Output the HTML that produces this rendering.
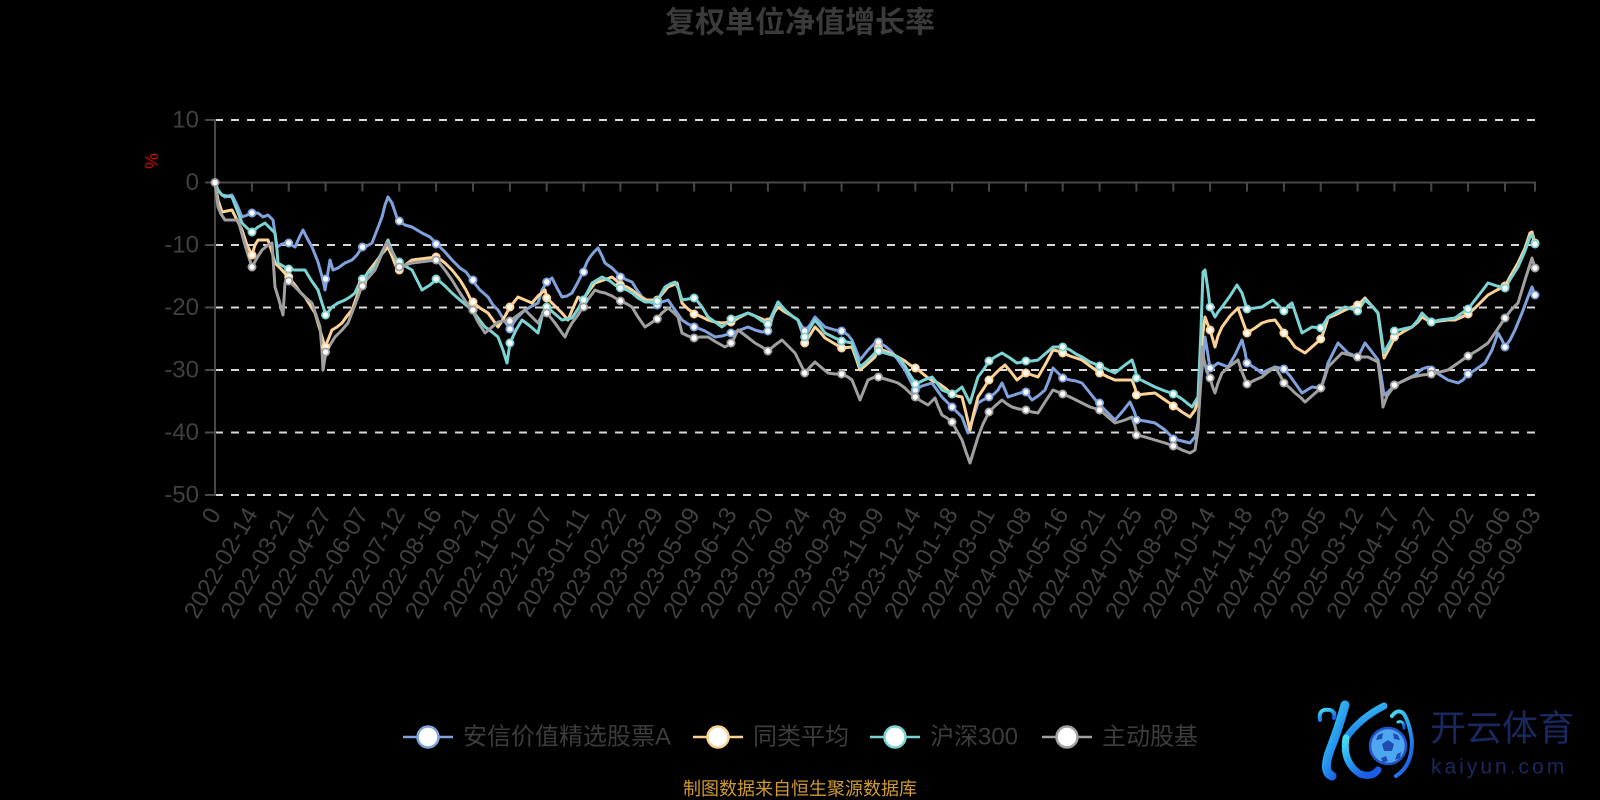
<!DOCTYPE html>
<html><head><meta charset="utf-8">
<style>
html,body{margin:0;padding:0;background:#000;}
svg{display:block;}
text{font-family:"Liberation Sans","Noto Sans CJK SC",sans-serif;}
</style></head>
<body>
<svg width="1600" height="800" viewBox="0 0 1600 800" xmlns="http://www.w3.org/2000/svg">
<rect width="1600" height="800" fill="#000"/>
<!-- title -->
<text x="800" y="23" text-anchor="middle" dominant-baseline="central" font-size="30" font-weight="bold" fill="#3a3a3a">复权单位净值增长率</text>

<!-- grid -->
<g stroke="#d8d8d8" stroke-width="2" stroke-dasharray="8 8" fill="none">
<line x1="215" y1="120" x2="1535" y2="120"/>
<line x1="215" y1="245" x2="1535" y2="245"/>
<line x1="215" y1="307.5" x2="1535" y2="307.5"/>
<line x1="215" y1="370" x2="1535" y2="370"/>
<line x1="215" y1="432.5" x2="1535" y2="432.5"/>
<line x1="215" y1="495" x2="1535" y2="495"/>
</g>
<!-- axes -->
<g stroke="#484848" stroke-width="2" fill="none">
<line x1="215" y1="119" x2="215" y2="496"/>
<line x1="214" y1="182.5" x2="1536" y2="182.5"/>
<line x1="205" y1="120" x2="215" y2="120"/>
<line x1="205" y1="182.5" x2="215" y2="182.5"/>
<line x1="205" y1="245" x2="215" y2="245"/>
<line x1="205" y1="307.5" x2="215" y2="307.5"/>
<line x1="205" y1="370" x2="215" y2="370"/>
<line x1="205" y1="432.5" x2="215" y2="432.5"/>
<line x1="205" y1="495" x2="215" y2="495"/>
<path d="M251.9 182.5v9M288.7 182.5v9M325.6 182.5v9M362.4 182.5v9M399.3 182.5v9M436.1 182.5v9M473 182.5v9M509.9 182.5v9M546.7 182.5v9M583.6 182.5v9M620.4 182.5v9M657.3 182.5v9M694.1 182.5v9M731 182.5v9M767.9 182.5v9M804.7 182.5v9M841.6 182.5v9M878.4 182.5v9M915.3 182.5v9M952.1 182.5v9M989 182.5v9M1025.9 182.5v9M1062.7 182.5v9M1099.6 182.5v9M1136.4 182.5v9M1173.3 182.5v9M1210.1 182.5v9M1247 182.5v9M1283.9 182.5v9M1320.7 182.5v9M1357.6 182.5v9M1394.4 182.5v9M1431.3 182.5v9M1468.1 182.5v9M1505 182.5v9M1535 182.5v9"/>
</g>
<!-- y labels -->
<g font-size="24" fill="#404040" text-anchor="end" dominant-baseline="central">
<text x="199" y="120">10</text>
<text x="199" y="182.5">0</text>
<text x="199" y="245">-10</text>
<text x="199" y="307.5">-20</text>
<text x="199" y="370">-30</text>
<text x="199" y="432.5">-40</text>
<text x="199" y="495">-50</text>
</g>
<text x="0" y="0" font-size="18" fill="#d00000" text-anchor="middle" dominant-baseline="central" transform="translate(152,161) rotate(-90)">%</text>

<!-- x labels -->
<g font-size="24" fill="#404040" text-anchor="end" dominant-baseline="central">
<text transform="translate(215,510) rotate(-60)">0</text>
<text transform="translate(251.9,510) rotate(-60)">2022-02-14</text>
<text transform="translate(288.7,510) rotate(-60)">2022-03-21</text>
<text transform="translate(325.6,510) rotate(-60)">2022-04-27</text>
<text transform="translate(362.4,510) rotate(-60)">2022-06-07</text>
<text transform="translate(399.3,510) rotate(-60)">2022-07-12</text>
<text transform="translate(436.1,510) rotate(-60)">2022-08-16</text>
<text transform="translate(473,510) rotate(-60)">2022-09-21</text>
<text transform="translate(509.9,510) rotate(-60)">2022-11-02</text>
<text transform="translate(546.7,510) rotate(-60)">2022-12-07</text>
<text transform="translate(583.6,510) rotate(-60)">2023-01-11</text>
<text transform="translate(620.4,510) rotate(-60)">2023-02-22</text>
<text transform="translate(657.3,510) rotate(-60)">2023-03-29</text>
<text transform="translate(694.1,510) rotate(-60)">2023-05-09</text>
<text transform="translate(731,510) rotate(-60)">2023-06-13</text>
<text transform="translate(767.9,510) rotate(-60)">2023-07-20</text>
<text transform="translate(804.7,510) rotate(-60)">2023-08-24</text>
<text transform="translate(841.6,510) rotate(-60)">2023-09-28</text>
<text transform="translate(878.4,510) rotate(-60)">2023-11-09</text>
<text transform="translate(915.3,510) rotate(-60)">2023-12-14</text>
<text transform="translate(952.1,510) rotate(-60)">2024-01-18</text>
<text transform="translate(989,510) rotate(-60)">2024-03-01</text>
<text transform="translate(1025.9,510) rotate(-60)">2024-04-08</text>
<text transform="translate(1062.7,510) rotate(-60)">2024-05-16</text>
<text transform="translate(1099.6,510) rotate(-60)">2024-06-21</text>
<text transform="translate(1136.4,510) rotate(-60)">2024-07-25</text>
<text transform="translate(1173.3,510) rotate(-60)">2024-08-29</text>
<text transform="translate(1210.1,510) rotate(-60)">2024-10-14</text>
<text transform="translate(1247,510) rotate(-60)">2024-11-18</text>
<text transform="translate(1283.9,510) rotate(-60)">2024-12-23</text>
<text transform="translate(1320.7,510) rotate(-60)">2025-02-05</text>
<text transform="translate(1357.6,510) rotate(-60)">2025-03-12</text>
<text transform="translate(1394.4,510) rotate(-60)">2025-04-17</text>
<text transform="translate(1431.3,510) rotate(-60)">2025-05-27</text>
<text transform="translate(1468.1,510) rotate(-60)">2025-07-02</text>
<text transform="translate(1505,510) rotate(-60)">2025-08-06</text>
<text transform="translate(1535,510) rotate(-60)">2025-09-03</text>
</g>

<!-- series -->
<g fill="none" stroke-width="3" stroke-linejoin="round" stroke-linecap="round">
<polyline stroke="#80a2dc" points="215,182.5 218,190 222,195 225,197 232,195 237,205 242,217 250,214 258,213 263,217 268,215 273,220 277,247 282,244 288,243 295,247 300,236 303,230 307,238 312,247 318,262 323,280 325,290 330,260 333,270 338,268 345,263 352,260 357,255 362,247 367,246 372,243 377,230 382,217 385,205 388,197 392,203 395,212 398,221 405,225 412,227 417,230 422,233 430,237 437,244 445,252 452,260 460,268 466,272 472,280 480,290 488,297 493,305 498,310 504,320 510,329 514,322 518,317 525,310 532,306 538,303 542,290 547,282 552,278 557,288 562,297 567,296 572,293 578,282 583,272 587,262 590,257 594,252 598,248 602,256 605,263 612,268 617,273 621,277 627,280 632,282 637,290 642,297 650,302 657,305 662,302 668,300 675,310 682,320 688,324 695,327 705,331 715,337 722,336 732,333 740,330 748,327 755,330 762,332 768,331 773,316 778,302 785,310 792,316 798,320 805,331 810,325 815,317 820,322 825,327 835,330 842,331 848,335 852,340 856,350 860,360 864,355 868,350 875,343 878,342 885,346 892,352 898,360 905,370 910,380 915,390 922,386 932,383 937,390 942,397 947,402 952,407 957,412 962,417 968,433 973,418 978,403 983,400 989,397 994,394 998,390 1002,383 1008,397 1014,395 1020,393 1026,392 1032,400 1038,396 1045,390 1049,380 1053,368 1058,373 1063,378 1070,380 1076,381 1082,383 1090,393 1098,403 1106,411 1115,420 1122,412 1130,402 1134,411 1137,420 1145,421 1155,423 1165,430 1174,439 1182,441 1190,443 1195,437 1198,423 1201,380 1205,337 1208,355 1210,368 1214,366 1218,363 1223,365 1228,367 1235,355 1242,340 1245,352 1247,363 1255,368 1262,373 1268,370 1275,367 1284,369 1290,376 1295,383 1302,393 1307,390 1312,387 1321,388 1325,375 1328,363 1333,353 1338,343 1343,348 1348,353 1353,355 1358,357 1365,343 1372,352 1378,360 1381,375 1384,395 1388,392 1395,385 1405,380 1415,375 1422,369 1428,367 1432,370 1440,375 1448,380 1458,383 1463,380 1468,374 1475,370 1485,363 1492,350 1498,333 1502,340 1505,347 1510,340 1515,330 1522,313 1528,297 1532,287 1535,295"/>
<polyline stroke="#fcd296" points="215,182.5 218,200 222,212 227,211 232,210 237,220 242,230 247,245 252,255 255,245 258,240 263,240 268,240 272,252 275,263 282,270 288,277 295,285 300,292 305,297 310,305 315,313 320,330 325,347 328,340 332,330 337,327 342,323 347,316 352,310 357,296 362,283 368,272 375,263 381,255 388,247 392,256 395,264 398,270 405,265 412,260 420,259 428,258 437,257 445,263 452,270 460,280 466,290 472,302 480,308 488,313 493,320 498,327 504,318 510,307 514,302 518,297 525,300 532,303 538,296 545,290 547,298 555,306 562,313 568,320 573,308 578,297 583,300 589,291 595,283 604,280 612,277 617,281 621,285 627,287 632,290 638,295 645,300 651,300 657,300 663,293 668,287 673,285 677,283 682,303 688,309 695,314 702,317 708,320 715,322 722,323 732,322 740,317 748,313 755,316 762,319 768,322 773,314 778,307 785,312 792,316 798,320 802,332 805,343 810,335 815,327 820,332 825,338 835,344 842,348 852,347 856,358 860,370 866,365 875,357 878,348 885,351 892,354 898,357 905,361 910,365 916,368 922,373 928,378 933,381 938,383 945,388 952,394 957,396 962,397 966,413 970,430 974,412 978,397 984,388 989,380 995,374 1000,369 1005,365 1011,372 1017,380 1022,376 1026,373 1032,375 1038,377 1045,365 1053,350 1058,351 1063,353 1070,356 1076,358 1082,360 1090,366 1100,373 1108,377 1115,380 1125,380 1132,380 1135,388 1137,395 1145,394 1155,393 1165,400 1174,406 1182,412 1190,417 1195,410 1198,400 1202,340 1205,317 1208,325 1210,330 1213,340 1215,347 1218,336 1222,327 1230,316 1238,308 1243,322 1247,333 1255,328 1262,323 1268,321 1275,320 1280,327 1284,333 1290,340 1295,347 1300,350 1305,353 1313,346 1321,339 1325,328 1328,318 1335,315 1345,310 1352,307 1358,305 1365,298 1372,306 1378,313 1381,335 1384,358 1390,347 1395,337 1403,332 1412,327 1418,322 1422,317 1427,320 1432,322 1440,321 1448,320 1455,320 1462,317 1468,314 1475,308 1482,301 1488,295 1497,290 1505,286 1511,275 1518,263 1525,248 1530,233 1532,232 1535,243"/>
<polyline stroke="#7cd3d3" points="215,182.5 218,190 222,195 227,196 232,197 237,210 242,223 247,228 252,232 258,227 265,223 270,228 275,233 277,250 278,263 283,266 288,269 295,270 300,270 305,270 311,280 318,290 322,303 326,315 329,311 332,307 338,303 345,300 350,297 355,293 358,286 362,279 368,273 375,267 382,252 388,240 392,251 395,257 398,262 405,266 412,270 417,280 422,290 430,285 437,279 445,286 452,293 460,300 466,305 472,310 478,318 485,327 492,332 498,337 503,350 507,363 510,343 516,330 522,320 530,326 538,333 543,312 547,307 555,314 562,320 567,319 572,318 578,309 583,300 588,291 592,283 597,280 602,277 610,281 615,285 621,288 627,290 632,293 638,298 645,302 651,302 657,301 661,294 665,287 670,284 675,282 679,290 682,300 688,299 695,298 702,307 708,317 715,322 722,327 727,323 732,319 740,316 748,313 755,316 762,321 768,324 773,313 778,302 785,310 792,316 798,320 802,330 805,337 810,328 815,320 820,326 825,333 835,338 842,341 852,343 856,355 860,367 866,362 875,353 878,351 885,353 892,355 898,357 905,366 910,375 916,384 924,380 932,377 937,383 942,390 947,392 952,394 957,391 962,387 966,395 970,403 974,390 978,377 984,369 989,361 995,357 1002,353 1010,358 1017,363 1022,362 1026,361 1032,361 1038,360 1045,354 1053,347 1058,347 1063,347 1070,350 1076,354 1082,357 1090,362 1100,366 1108,370 1115,373 1125,365 1132,360 1135,369 1137,378 1145,382 1155,387 1165,391 1174,394 1182,399 1192,407 1198,397 1201,330 1203,272 1205,270 1208,290 1210,307 1213,313 1215,317 1218,312 1222,307 1230,296 1237,285 1242,293 1247,309 1255,308 1262,307 1268,303 1273,300 1279,306 1284,311 1288,306 1292,303 1297,318 1302,333 1307,330 1312,327 1321,328 1325,322 1328,317 1335,313 1345,307 1352,309 1358,311 1365,300 1372,306 1378,313 1381,333 1384,353 1390,342 1395,331 1403,329 1412,327 1418,320 1422,313 1427,318 1432,322 1440,320 1448,319 1455,318 1462,313 1468,309 1475,300 1482,291 1488,283 1497,286 1505,288 1511,278 1518,267 1525,251 1530,237 1532,235 1535,244"/>
<polyline stroke="#a0a0a0" points="215,182.5 218,207 221,214 225,220 232,220 238,220 245,245 252,267 257,258 262,250 267,246 272,243 275,287 279,300 283,315 285,283 289,281 294,286 298,290 305,297 312,303 316,315 320,327 322,350 323,370 326,352 330,345 335,337 342,330 348,323 355,305 362,286 368,278 375,270 381,256 387,242 391,250 395,257 399,267 405,265 412,263 420,262 428,261 437,260 445,270 452,280 460,293 466,302 472,310 478,322 485,333 492,327 498,322 504,321 510,321 518,315 525,310 532,317 538,323 542,315 547,313 555,323 562,333 565,337 568,330 572,323 578,315 583,307 589,298 595,290 600,292 605,293 612,296 617,299 621,301 627,304 632,307 638,317 645,327 651,323 657,319 662,313 668,308 673,312 678,317 682,333 688,336 694,338 700,337 708,337 716,342 725,347 732,343 735,336 738,330 746,336 755,343 762,347 768,351 775,345 782,340 788,346 795,353 800,363 805,373 810,367 815,362 822,368 828,373 835,374 842,374 848,377 852,380 856,390 860,400 864,390 868,380 875,377 878,377 885,379 892,381 898,383 905,388 910,393 915,397 921,401 928,405 935,398 938,406 942,415 947,418 952,422 957,431 962,440 966,452 970,463 974,450 978,437 983,424 989,412 995,406 1002,400 1007,404 1012,407 1019,409 1026,410 1032,412 1038,413 1045,402 1053,390 1058,392 1063,394 1070,397 1076,400 1082,403 1090,407 1100,410 1108,417 1115,423 1125,420 1132,417 1135,426 1137,435 1145,437 1155,440 1165,443 1174,446 1182,450 1190,453 1195,450 1198,430 1202,347 1204,360 1207,372 1210,378 1213,388 1215,393 1218,383 1222,373 1230,366 1238,360 1242,372 1247,384 1255,380 1262,377 1268,372 1275,367 1280,375 1284,383 1290,388 1295,393 1300,397 1305,402 1313,395 1321,388 1325,377 1328,367 1335,360 1342,353 1350,355 1358,357 1368,357 1378,362 1381,385 1383,407 1387,396 1395,385 1403,381 1412,377 1422,375 1432,374 1440,372 1448,370 1458,363 1468,356 1478,350 1488,343 1497,330 1505,318 1511,310 1518,303 1525,280 1532,258 1535,268"/>
</g>

<!-- markers -->
<g fill="#fff" stroke-width="1.8">
<g stroke="#80a2dc">
<circle cx="252" cy="213" r="3.6"/><circle cx="288.7" cy="243" r="3.6"/><circle cx="325.6" cy="279" r="3.6"/><circle cx="362.4" cy="247" r="3.6"/><circle cx="399.3" cy="221" r="3.6"/><circle cx="436.1" cy="244" r="3.6"/><circle cx="473" cy="280" r="3.6"/><circle cx="509.9" cy="329" r="3.6"/><circle cx="546.7" cy="282" r="3.6"/><circle cx="583.6" cy="272" r="3.6"/><circle cx="620.4" cy="277" r="3.6"/><circle cx="657.3" cy="305" r="3.6"/><circle cx="694.1" cy="327" r="3.6"/><circle cx="731" cy="333" r="3.6"/><circle cx="767.9" cy="331" r="3.6"/><circle cx="804.7" cy="331" r="3.6"/><circle cx="841.6" cy="331" r="3.6"/><circle cx="878.4" cy="342" r="3.6"/><circle cx="915.3" cy="390" r="3.6"/><circle cx="952.1" cy="407" r="3.6"/><circle cx="989" cy="397" r="3.6"/><circle cx="1025.9" cy="392" r="3.6"/><circle cx="1062.7" cy="378" r="3.6"/><circle cx="1099.6" cy="403" r="3.6"/><circle cx="1136.4" cy="420" r="3.6"/><circle cx="1173.3" cy="439" r="3.6"/><circle cx="1210.1" cy="368" r="3.6"/><circle cx="1247" cy="363" r="3.6"/><circle cx="1283.9" cy="369" r="3.6"/><circle cx="1320.7" cy="388" r="3.6"/><circle cx="1357.6" cy="357" r="3.6"/><circle cx="1394.4" cy="385" r="3.6"/><circle cx="1431.3" cy="370" r="3.6"/><circle cx="1468.1" cy="374" r="3.6"/><circle cx="1505" cy="347" r="3.6"/><circle cx="1535" cy="295" r="3.6"/>
</g>
<g stroke="#fcd296">
<circle cx="252" cy="255" r="3.6"/><circle cx="288.7" cy="277" r="3.6"/><circle cx="325.6" cy="347" r="3.6"/><circle cx="362.4" cy="283" r="3.6"/><circle cx="399.3" cy="270" r="3.6"/><circle cx="436.1" cy="257" r="3.6"/><circle cx="473" cy="302" r="3.6"/><circle cx="509.9" cy="307" r="3.6"/><circle cx="546.7" cy="298" r="3.6"/><circle cx="583.6" cy="300" r="3.6"/><circle cx="620.4" cy="285" r="3.6"/><circle cx="657.3" cy="300" r="3.6"/><circle cx="694.1" cy="314" r="3.6"/><circle cx="731" cy="322" r="3.6"/><circle cx="767.9" cy="322" r="3.6"/><circle cx="804.7" cy="343" r="3.6"/><circle cx="841.6" cy="348" r="3.6"/><circle cx="878.4" cy="348" r="3.6"/><circle cx="915.3" cy="368" r="3.6"/><circle cx="952.1" cy="394" r="3.6"/><circle cx="989" cy="380" r="3.6"/><circle cx="1025.9" cy="373" r="3.6"/><circle cx="1062.7" cy="353" r="3.6"/><circle cx="1099.6" cy="373" r="3.6"/><circle cx="1136.4" cy="395" r="3.6"/><circle cx="1173.3" cy="406" r="3.6"/><circle cx="1210.1" cy="330" r="3.6"/><circle cx="1247" cy="333" r="3.6"/><circle cx="1283.9" cy="333" r="3.6"/><circle cx="1320.7" cy="339" r="3.6"/><circle cx="1357.6" cy="305" r="3.6"/><circle cx="1394.4" cy="337" r="3.6"/><circle cx="1431.3" cy="322" r="3.6"/><circle cx="1468.1" cy="314" r="3.6"/><circle cx="1505" cy="286" r="3.6"/><circle cx="1535" cy="243" r="3.6"/>
</g>
<g stroke="#7cd3d3">
<circle cx="252" cy="232" r="3.6"/><circle cx="288.7" cy="269" r="3.6"/><circle cx="325.6" cy="315" r="3.6"/><circle cx="362.4" cy="279" r="3.6"/><circle cx="399.3" cy="262" r="3.6"/><circle cx="436.1" cy="279" r="3.6"/><circle cx="473" cy="310" r="3.6"/><circle cx="509.9" cy="343" r="3.6"/><circle cx="546.7" cy="307" r="3.6"/><circle cx="583.6" cy="300" r="3.6"/><circle cx="620.4" cy="288" r="3.6"/><circle cx="657.3" cy="301" r="3.6"/><circle cx="694.1" cy="298" r="3.6"/><circle cx="731" cy="319" r="3.6"/><circle cx="767.9" cy="324" r="3.6"/><circle cx="804.7" cy="337" r="3.6"/><circle cx="841.6" cy="341" r="3.6"/><circle cx="878.4" cy="351" r="3.6"/><circle cx="915.3" cy="384" r="3.6"/><circle cx="952.1" cy="394" r="3.6"/><circle cx="989" cy="361" r="3.6"/><circle cx="1025.9" cy="361" r="3.6"/><circle cx="1062.7" cy="347" r="3.6"/><circle cx="1099.6" cy="366" r="3.6"/><circle cx="1136.4" cy="378" r="3.6"/><circle cx="1173.3" cy="394" r="3.6"/><circle cx="1210.1" cy="307" r="3.6"/><circle cx="1247" cy="309" r="3.6"/><circle cx="1283.9" cy="311" r="3.6"/><circle cx="1320.7" cy="328" r="3.6"/><circle cx="1357.6" cy="311" r="3.6"/><circle cx="1394.4" cy="331" r="3.6"/><circle cx="1431.3" cy="322" r="3.6"/><circle cx="1468.1" cy="309" r="3.6"/><circle cx="1505" cy="288" r="3.6"/><circle cx="1535" cy="244" r="3.6"/>
</g>
<g stroke="#a0a0a0">
<circle cx="215" cy="182.5" r="3.6"/><circle cx="252" cy="267" r="3.6"/><circle cx="288.7" cy="281" r="3.6"/><circle cx="325.6" cy="352" r="3.6"/><circle cx="362.4" cy="286" r="3.6"/><circle cx="399.3" cy="267" r="3.6"/><circle cx="436.1" cy="260" r="3.6"/><circle cx="473" cy="310" r="3.6"/><circle cx="509.9" cy="321" r="3.6"/><circle cx="546.7" cy="313" r="3.6"/><circle cx="583.6" cy="307" r="3.6"/><circle cx="620.4" cy="301" r="3.6"/><circle cx="657.3" cy="319" r="3.6"/><circle cx="694.1" cy="338" r="3.6"/><circle cx="731" cy="343" r="3.6"/><circle cx="767.9" cy="351" r="3.6"/><circle cx="804.7" cy="373" r="3.6"/><circle cx="841.6" cy="374" r="3.6"/><circle cx="878.4" cy="377" r="3.6"/><circle cx="915.3" cy="397" r="3.6"/><circle cx="952.1" cy="422" r="3.6"/><circle cx="989" cy="412" r="3.6"/><circle cx="1025.9" cy="410" r="3.6"/><circle cx="1062.7" cy="394" r="3.6"/><circle cx="1099.6" cy="410" r="3.6"/><circle cx="1136.4" cy="435" r="3.6"/><circle cx="1173.3" cy="446" r="3.6"/><circle cx="1210.1" cy="378" r="3.6"/><circle cx="1247" cy="384" r="3.6"/><circle cx="1283.9" cy="383" r="3.6"/><circle cx="1320.7" cy="388" r="3.6"/><circle cx="1357.6" cy="357" r="3.6"/><circle cx="1394.4" cy="385" r="3.6"/><circle cx="1431.3" cy="374" r="3.6"/><circle cx="1468.1" cy="356" r="3.6"/><circle cx="1505" cy="318" r="3.6"/><circle cx="1535" cy="268" r="3.6"/>
</g>
</g>

<!-- legend -->
<g stroke-width="2.5">
<line x1="403" y1="737" x2="453" y2="737" stroke="#80a2dc"/>
<circle cx="428" cy="737" r="10.5" fill="#fff" stroke="#80a2dc"/>
<line x1="693" y1="737" x2="743" y2="737" stroke="#fcd296"/>
<circle cx="718" cy="737" r="10.5" fill="#fff" stroke="#fcd296"/>
<line x1="870" y1="737" x2="920" y2="737" stroke="#7cd3d3"/>
<circle cx="895" cy="737" r="10.5" fill="#fff" stroke="#7cd3d3"/>
<line x1="1042" y1="737" x2="1092" y2="737" stroke="#a0a0a0"/>
<circle cx="1067" cy="737" r="10.5" fill="#fff" stroke="#a0a0a0"/>
</g>
<g font-size="24" fill="#3c3c3c" dominant-baseline="central">
<text x="463" y="737">安信价值精选股票A</text>
<text x="753" y="737">同类平均</text>
<text x="930" y="737">沪深300</text>
<text x="1102" y="737">主动股基</text>
</g>

<!-- footer -->
<text x="800" y="789" text-anchor="middle" dominant-baseline="central" font-size="18" fill="#cf9a30">制图数据来自恒生聚源数据库</text>

<!-- watermark logo -->
<defs>
<linearGradient id="kg" x1="0" y1="0" x2="0.6" y2="1">
<stop offset="0" stop-color="#44e0f2"/>
<stop offset="0.5" stop-color="#2aa2f0"/>
<stop offset="1" stop-color="#1a5de6"/>
</linearGradient>
</defs>
<g fill="none" stroke="url(#kg)" stroke-linecap="round" stroke-linejoin="round">
<path d="M1320 720 Q1318 708 1330 710 Q1336 712 1334 718" stroke-width="4"/>
<path d="M1345 705 Q1338 730 1330 750 Q1322 772 1332 776" stroke-width="9"/>
<path d="M1384 706 Q1360 718 1346 738" stroke-width="7"/>
<path d="M1346 738 Q1342 762 1360 774 Q1372 778 1378 770" stroke-width="7"/>
<path d="M1392 716 Q1398 708 1404 714 Q1410 724 1412 742 Q1412 766 1396 776" stroke-width="4"/>
<path d="M1398 722 Q1404 720 1404 728" stroke-width="3"/>
</g>
<circle cx="1388" cy="746" r="18" fill="#4fa6f0" stroke="#1f55c8" stroke-width="2.5"/>
<g fill="#1e4fb0">
<polygon points="1388,740 1394,744 1392,751 1384,751 1382,744"/>
<polygon points="1378,735 1383,733 1382,739 1376,740"/>
<polygon points="1398,735 1393,733 1394,739 1400,740"/>
<polygon points="1381,758 1386,756 1388,761 1383,763"/>
<polygon points="1397,754 1401,752 1400,758 1395,760"/>
</g>
<text x="1430" y="728" dominant-baseline="central" font-size="36" fill="#19285f">开云体育</text>
<text x="1431" y="767" dominant-baseline="central" font-size="21" letter-spacing="3" fill="#19285f">kaiyun.com</text>
</svg>
</body></html>
